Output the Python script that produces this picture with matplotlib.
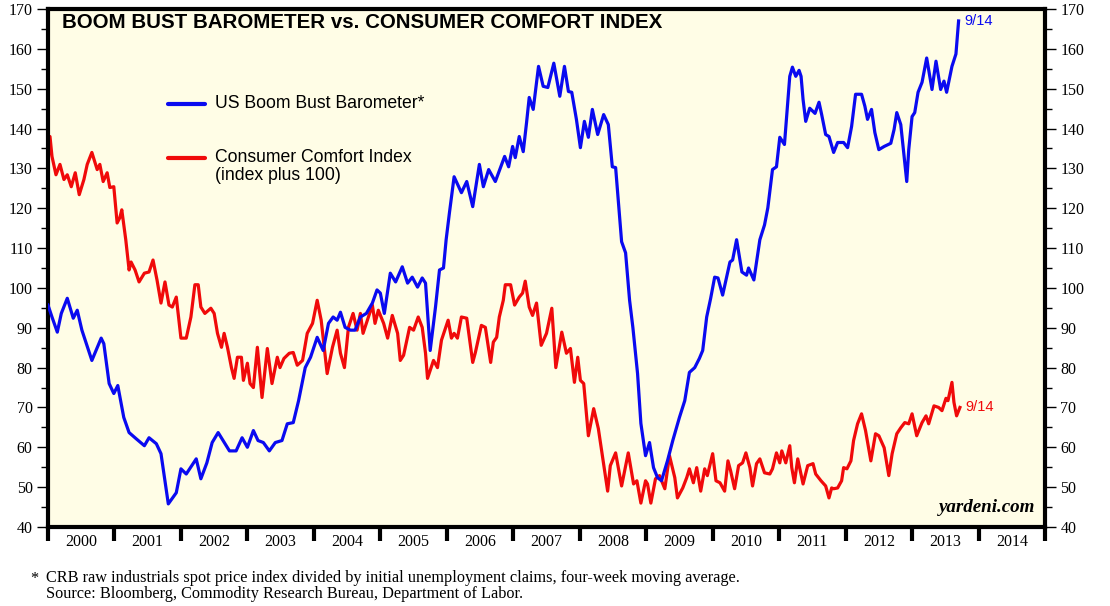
import matplotlib
matplotlib.use("Agg")
import matplotlib.pyplot as plt
from matplotlib.ticker import MultipleLocator, FixedLocator, NullFormatter, FixedFormatter

# ---------------- data (decimal years, values) ----------------
boom_t = [2000.00, 2000.06, 2000.14, 2000.20, 2000.29, 2000.38, 2000.44, 2000.51, 2000.66, 2000.80,
          2000.84, 2000.92, 2000.99, 2001.05, 2001.14, 2001.22, 2001.33, 2001.45, 2001.52, 2001.63,
          2001.70, 2001.81, 2001.93, 2002.00, 2002.08, 2002.23, 2002.30, 2002.39, 2002.47, 2002.56,
          2002.73, 2002.83, 2002.92, 2003.00, 2003.09, 2003.16, 2003.24, 2003.33, 2003.42, 2003.52,
          2003.60, 2003.69, 2003.77, 2003.87, 2003.95, 2004.05, 2004.14, 2004.22, 2004.29, 2004.35,
          2004.40, 2004.47, 2004.55, 2004.62, 2004.70, 2004.79, 2004.88, 2004.95, 2005.00, 2005.06,
          2005.15, 2005.23, 2005.33, 2005.41, 2005.48, 2005.56, 2005.63, 2005.68, 2005.75, 2005.83,
          2005.89, 2005.95, 2005.99, 2006.04, 2006.11, 2006.22, 2006.30, 2006.39, 2006.49, 2006.55,
          2006.63, 2006.73, 2006.87, 2006.93, 2006.99, 2007.03, 2007.09, 2007.15, 2007.20, 2007.24,
          2007.30, 2007.38, 2007.45, 2007.52, 2007.61, 2007.70, 2007.77, 2007.83, 2007.88, 2007.95,
          2008.01, 2008.07, 2008.13, 2008.19, 2008.27, 2008.36, 2008.43, 2008.49, 2008.54, 2008.63,
          2008.69, 2008.75, 2008.80, 2008.87, 2008.92, 2008.99, 2009.05, 2009.11, 2009.17, 2009.23,
          2009.32, 2009.40, 2009.50, 2009.58, 2009.65, 2009.73, 2009.80, 2009.85, 2009.91, 2009.97,
          2010.03, 2010.08, 2010.15, 2010.26, 2010.30, 2010.36, 2010.44, 2010.51, 2010.54, 2010.62,
          2010.71, 2010.78, 2010.83, 2010.90, 2010.96, 2011.01, 2011.08, 2011.11, 2011.16, 2011.20,
          2011.25, 2011.30, 2011.33, 2011.36, 2011.40, 2011.46, 2011.54, 2011.60, 2011.64, 2011.70,
          2011.75, 2011.82, 2011.88, 2011.97, 2012.03, 2012.09, 2012.15, 2012.24, 2012.29, 2012.33,
          2012.39, 2012.44, 2012.50, 2012.58, 2012.68, 2012.73, 2012.77, 2012.83, 2012.88, 2012.92,
          2012.95, 2013.00, 2013.04, 2013.09, 2013.15, 2013.22, 2013.30, 2013.36, 2013.43, 2013.48,
          2013.52, 2013.60, 2013.66, 2013.70]
boom_v = [95.7, 92.7, 88.9, 93.6, 97.4, 92.4, 94.4, 89.4, 81.8, 87.4,
          86.0, 76.0, 73.5, 75.5, 67.5, 63.7, 62.1, 60.4, 62.4, 60.9,
          58.4, 45.8, 48.6, 54.6, 53.3, 57.1, 52.1, 56.1, 61.2, 63.7,
          59.1, 59.1, 62.4, 60.0, 64.2, 61.7, 61.2, 59.1, 61.2, 61.7,
          65.9, 66.2, 71.7, 80.0, 82.6, 87.6, 84.3, 91.1, 92.7, 91.9,
          93.9, 90.1, 89.4, 89.4, 92.7, 93.6, 96.2, 99.5, 98.7, 93.6,
          103.7, 101.5, 105.3, 101.2, 102.7, 100.2, 102.5, 101.2, 84.3, 95.2,
          104.5, 105.0, 112.1, 118.9, 127.9, 123.9, 126.7, 120.4, 131.0, 125.4,
          129.7, 126.7, 133.0, 130.4, 135.5, 132.7, 138.0, 134.2, 141.5, 147.8,
          144.8, 155.6, 150.6, 150.3, 156.4, 148.1, 155.6, 149.3, 149.1, 142.3,
          135.2, 141.8, 137.8, 144.8, 138.5, 143.5, 141.0, 130.4, 130.2, 111.6,
          108.8, 96.9, 90.0, 78.5, 66.0, 57.9, 61.2, 54.9, 52.4, 51.6,
          56.6, 61.7, 67.5, 71.7, 78.8, 80.0, 82.3, 84.3, 92.7, 97.4,
          102.7, 102.5, 98.2, 106.5, 107.0, 112.1, 104.0, 103.2, 105.0, 102.0,
          112.1, 115.8, 120.1, 129.7, 130.4, 137.8, 136.0, 142.3, 153.1, 155.4,
          153.1, 154.6, 153.1, 147.3, 141.8, 145.1, 143.8, 146.6, 143.5, 138.5,
          138.0, 134.0, 136.5, 136.5, 135.2, 140.5, 148.6, 148.6, 145.6, 142.3,
          144.8, 139.0, 134.7, 135.5, 136.3, 139.8, 144.0, 141.0, 133.0, 126.7,
          134.7, 143.0, 144.0, 149.1, 151.6, 157.7, 149.8, 156.9, 149.8, 151.9,
          149.1, 155.6, 158.7, 167.0]

comfort_t = [2000.00, 2000.03, 2000.06, 2000.12, 2000.18, 2000.24, 2000.29, 2000.35, 2000.41, 2000.47,
             2000.54, 2000.59, 2000.66, 2000.74, 2000.78, 2000.83, 2000.89, 2000.93, 2000.99, 2001.04,
             2001.08, 2001.11, 2001.17, 2001.22, 2001.25, 2001.31, 2001.37, 2001.45, 2001.52, 2001.58,
             2001.64, 2001.70, 2001.76, 2001.82, 2001.87, 2001.93, 2002.00, 2002.08, 2002.15, 2002.21,
             2002.26, 2002.30, 2002.36, 2002.45, 2002.50, 2002.55, 2002.61, 2002.65, 2002.70, 2002.76,
             2002.80, 2002.85, 2002.91, 2002.94, 2003.00, 2003.04, 2003.09, 2003.15, 2003.22, 2003.30,
             2003.37, 2003.45, 2003.49, 2003.55, 2003.63, 2003.69, 2003.75, 2003.83, 2003.90, 2003.98,
             2004.05, 2004.11, 2004.20, 2004.28, 2004.35, 2004.40, 2004.46, 2004.52, 2004.59, 2004.65,
             2004.70, 2004.74, 2004.82, 2004.88, 2004.92, 2004.97, 2005.05, 2005.11, 2005.18, 2005.26,
             2005.30, 2005.35, 2005.44, 2005.50, 2005.57, 2005.63, 2005.68, 2005.71, 2005.80, 2005.86,
             2005.92, 2006.02, 2006.07, 2006.11, 2006.16, 2006.22, 2006.30, 2006.39, 2006.43, 2006.52,
             2006.58, 2006.66, 2006.70, 2006.75, 2006.79, 2006.85, 2006.88, 2006.96, 2007.02, 2007.09,
             2007.14, 2007.18, 2007.24, 2007.29, 2007.35, 2007.42, 2007.50, 2007.58, 2007.64, 2007.73,
             2007.80, 2007.86, 2007.92, 2007.97, 2008.01, 2008.06, 2008.13, 2008.21, 2008.28, 2008.33,
             2008.42, 2008.46, 2008.54, 2008.63, 2008.73, 2008.81, 2008.86, 2008.92, 2008.99, 2009.02,
             2009.07, 2009.14, 2009.20, 2009.28, 2009.35, 2009.43, 2009.47, 2009.55, 2009.61, 2009.65,
             2009.71, 2009.76, 2009.82, 2009.88, 2009.92, 2010.00, 2010.05, 2010.11, 2010.18, 2010.23,
             2010.27, 2010.33, 2010.39, 2010.45, 2010.50, 2010.56, 2010.60, 2010.66, 2010.71, 2010.78,
             2010.86, 2010.90, 2010.96, 2011.01, 2011.04, 2011.10, 2011.16, 2011.19, 2011.23, 2011.28,
             2011.36, 2011.43, 2011.51, 2011.55, 2011.63, 2011.70, 2011.75, 2011.79, 2011.82, 2011.88,
             2011.94, 2011.97, 2012.02, 2012.08, 2012.12, 2012.18, 2012.24, 2012.30, 2012.38, 2012.45,
             2012.50, 2012.58, 2012.65, 2012.70, 2012.77, 2012.83, 2012.89, 2012.95, 2013.00, 2013.07,
             2013.15, 2013.21, 2013.25, 2013.33, 2013.40, 2013.45, 2013.51, 2013.54, 2013.60, 2013.63,
             2013.67, 2013.72]
comfort_v = [131.5, 138.0, 133.0, 128.4, 131.0, 127.2, 128.4, 125.4, 128.9, 123.4,
             127.2, 131.0, 134.0, 129.7, 131.0, 126.7, 128.9, 125.2, 125.4, 116.3,
             117.6, 119.6, 112.1, 104.5, 106.5, 104.5, 101.5, 103.7, 104.0, 107.0,
             102.0, 96.2, 101.5, 95.7, 95.2, 97.7, 87.4, 87.4, 92.7, 100.8,
             100.8, 95.2, 93.6, 94.9, 93.6, 88.6, 85.1, 88.6, 85.1, 80.0,
             77.3, 82.6, 82.6, 76.8, 81.1, 76.0, 75.0, 85.1, 72.5, 84.8,
             76.0, 82.6, 80.0, 82.3, 83.6, 83.8, 80.6, 81.8, 88.6, 91.1,
             96.9, 91.9, 78.5, 85.1, 89.4, 83.6, 80.0, 90.1, 93.6, 89.4,
             93.6, 88.6, 92.7, 95.7, 91.1, 94.4, 91.1, 87.4, 93.1, 88.6,
             81.8, 83.1, 90.1, 89.4, 92.7, 90.1, 83.6, 77.3, 81.8, 80.0,
             86.9, 91.9, 87.4, 88.6, 87.4, 92.7, 92.4, 81.3, 83.8, 90.6,
             90.1, 81.3, 86.4, 87.6, 92.7, 96.9, 100.8, 100.8, 95.7, 97.7,
             98.7, 101.7, 95.2, 93.1, 96.2, 85.6, 88.6, 94.9, 80.0, 88.9,
             83.6, 84.8, 76.3, 82.6, 76.8, 76.0, 62.9, 69.7, 64.7, 59.1,
             49.0, 55.4, 58.6, 50.3, 58.6, 50.8, 51.6, 46.0, 51.6, 50.8,
             46.0, 52.1, 52.9, 49.6, 57.9, 52.4, 47.3, 49.8, 52.4, 54.6,
             51.1, 54.9, 49.0, 54.6, 52.9, 58.4, 51.6, 51.1, 49.0, 56.6,
             54.1, 49.6, 55.4, 56.1, 58.6, 54.9, 50.3, 55.9, 57.1, 53.6,
             53.3, 54.6, 58.6, 56.1, 59.1, 56.1, 60.4, 54.9, 51.1, 57.1,
             50.8, 55.4, 55.9, 53.3, 51.6, 50.3, 47.3, 49.8, 49.6, 49.8,
             51.6, 54.9, 54.6, 56.6, 61.7, 65.9, 68.4, 64.2, 56.6, 63.4,
             62.9, 59.9, 52.9, 58.4, 63.4, 64.9, 66.2, 65.9, 68.4, 62.9,
             66.2, 67.9, 65.9, 70.4, 70.0, 69.2, 72.3, 71.7, 76.3, 71.3,
             67.9, 70.0]

years = list(range(2000, 2015))
year_labels = [str(y) for y in years]
y_ticks = list(range(40, 171, 10))

title = "BOOM BUST BAROMETER vs. CONSUMER COMFORT INDEX"
label_boom = "US Boom Bust Barometer*"
label_comfort_1 = "Consumer Comfort Index"
label_comfort_2 = "(index plus 100)"
last_label = "9/14"
footnote_1 = "CRB raw industrials spot price index divided by initial unemployment claims, four-week moving average."
footnote_2 = "Source: Bloomberg, Commodity Research Bureau, Department of Labor."

# ---------------- figure ----------------
W, H = 1110, 606
fig = plt.figure(figsize=(W / 100, H / 100), dpi=100)
fig.patch.set_facecolor("white")
ax = fig.add_axes([48 / W, 1 - 527 / H, (1045 - 48) / W, (527 - 9) / H])
ax.set_facecolor("#FFFDE6")

BLUE = "#0A0AF0"
RED = "#F00A0A"
ax.plot(boom_t, boom_v, color=BLUE, lw=2.3, solid_joinstyle="round", zorder=3)
ax.plot(comfort_t, comfort_v, color=RED, lw=2.3, solid_joinstyle="round", zorder=2)

ax.set_xlim(2000, 2015)
ax.set_ylim(40, 170)

serif = "Liberation Serif"
sans = "Liberation Sans"

# x axis: year boundaries as ticks, labels centered in each year
ax.xaxis.set_major_locator(FixedLocator(list(range(2000, 2016))))
ax.xaxis.set_major_formatter(NullFormatter())
ax.xaxis.set_minor_locator(FixedLocator([y + 0.5 for y in years]))
ax.xaxis.set_minor_formatter(FixedFormatter(year_labels))
ax.tick_params(axis="x", which="major", direction="out", length=10, width=3, color="black")
ax.tick_params(axis="x", which="minor", length=0, pad=5, labelsize=11.5)
for lab in ax.get_xticklabels(minor=True):
    lab.set_fontfamily(serif)

# y axis: both sides
ax.yaxis.set_major_locator(FixedLocator(y_ticks))
ax.yaxis.set_minor_locator(MultipleLocator(5))
ax.tick_params(axis="y", which="major", direction="out", length=8, width=1.0,
               left=True, right=True, labelleft=True, labelright=True, labelsize=11.5, pad=3)
ax.tick_params(axis="y", which="minor", direction="out", length=5, width=1.0, left=True, right=True)
for lab in ax.get_yticklabels():
    lab.set_fontfamily(serif)

for s in ax.spines.values():
    s.set_linewidth(3)
    s.set_color("black")

# title
fig.text(62 / W, 1 - 23 / H, title, fontsize=14.8, fontweight="bold",
         fontfamily=sans, va="center", ha="left")

# legend (manual)
fig.add_artist(plt.Line2D([168 / W, 205 / W], [1 - 104 / H, 1 - 104 / H], color=BLUE, lw=3,
                          solid_capstyle="round", transform=fig.transFigure))
fig.add_artist(plt.Line2D([168 / W, 205 / W], [1 - 158 / H, 1 - 158 / H], color=RED, lw=3,
                          solid_capstyle="round", transform=fig.transFigure))
fig.text(215 / W, 1 - 104 / H, label_boom, fontsize=12.7, fontfamily=sans, va="center", ha="left")
fig.text(215 / W, 1 - 158 / H, label_comfort_1, fontsize=12.7, fontfamily=sans, va="center", ha="left")
fig.text(215 / W, 1 - 176 / H, label_comfort_2, fontsize=12.7, fontfamily=sans, va="center", ha="left")

# end labels
ax.annotate(last_label, xy=(boom_t[-1], boom_v[-1]), xytext=(4, 0), textcoords="offset points",
            color=BLUE, fontsize=10.5, fontfamily=sans, va="center", ha="left")
ax.annotate(last_label, xy=(comfort_t[-1], comfort_v[-1]), xytext=(4, 0), textcoords="offset points",
            color=RED, fontsize=10.5, fontfamily=sans, va="center", ha="left")

# watermark
ax.text(0.99, 0.022, "yardeni.com", transform=ax.transAxes, fontsize=13.7, fontfamily=serif,
        fontweight="bold", fontstyle="italic", ha="right", va="bottom")

# footnotes
fig.text(30 / W, 1 - 579 / H, "*", fontsize=11.7, fontfamily=serif, va="center", ha="left")
fig.text(46 / W, 1 - 578 / H, footnote_1, fontsize=11.7, fontfamily=serif, va="center", ha="left")
fig.text(46 / W, 1 - 594 / H, footnote_2, fontsize=11.7, fontfamily=serif, va="center", ha="left")

fig.savefig("out.png", dpi=100, facecolor="white")
